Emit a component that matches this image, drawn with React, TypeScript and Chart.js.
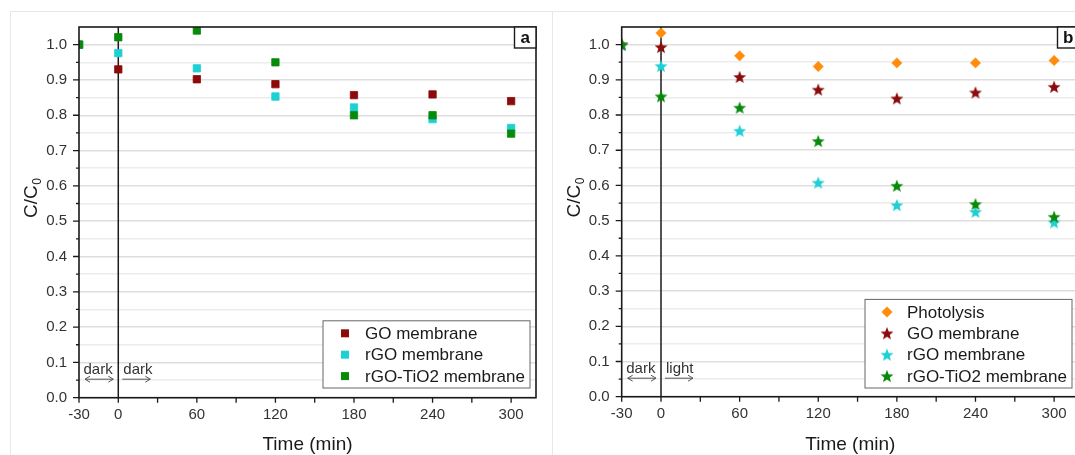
import { useEffect, useRef } from 'react';
import { Chart, registerables } from 'chart.js';

Chart.register(...registerables);

// ---------- data ----------
const timesA = [-30, 0, 60, 120, 180, 240, 300];
const goA = [1.0, 0.93, 0.902, 0.888, 0.857, 0.859, 0.84];
const rgoA = [1.0, 0.976, 0.933, 0.853, 0.822, 0.789, 0.764];
const tio2A = [1.0, 1.021, 1.04, 0.95, 0.8, 0.8, 0.748];

const timesB = [-30, 0, 60, 120, 180, 240, 300];
const photoB = [1.0, 1.033, 0.968, 0.938, 0.948, 0.948, 0.955];
const goB = [1.0, 0.993, 0.908, 0.872, 0.847, 0.864, 0.88];
const rgoB = [1.0, 0.939, 0.755, 0.608, 0.544, 0.525, 0.495];
const tio2B = [1.0, 0.853, 0.821, 0.726, 0.599, 0.547, 0.511];

const labelsA = ['GO membrane', 'rGO membrane', 'rGO-TiO2 membrane'];
const labelsB = ['Photolysis', 'GO membrane', 'rGO membrane', 'rGO-TiO2 membrane'];

const xTickValues = [-30, 0, 30, 60, 90, 120, 150, 180, 210, 240, 270, 300];
const xLabelValues = [-30, 0, 60, 120, 180, 240, 300];
const yTickValues = [0, 0.05, 0.1, 0.15, 0.2, 0.25, 0.3, 0.35, 0.4, 0.45, 0.5, 0.55, 0.6, 0.65, 0.7, 0.75, 0.8, 0.85, 0.9, 0.95, 1.0];

const annotA = ['dark', 'dark'];
const annotB = ['dark', 'light'];

const GO_COLOR = '#8B0A0A';
const RGO_COLOR = '#1DD0D4';
const TIO2_COLOR = '#078A0A';
const PHOTO_COLOR = '#FF8C0A';

const FONT = 'Arial, "Liberation Sans", sans-serif';

const isMajor = (v: number) => Math.abs(v * 10 - Math.round(v * 10)) < 1e-6;

function starPath(g: CanvasRenderingContext2D, cx: number, cy: number, R: number, r: number) {
  g.beginPath();
  for (let i = 0; i < 10; i++) {
    const a = -Math.PI / 2 + (i * Math.PI) / 5;
    const rad = i % 2 === 0 ? R : r;
    g.lineTo(cx + rad * Math.cos(a), cy + rad * Math.sin(a));
  }
  g.closePath();
}

function makeStar(color: string) {
  const c = document.createElement('canvas');
  c.width = 16;
  c.height = 16;
  const g = c.getContext('2d')!;
  starPath(g, 8, 8.6, 6.8, 2.9);
  g.fillStyle = color;
  g.fill();
  return c;
}

type Marker = 'rect' | 'rectRot' | HTMLCanvasElement;

function drawMarker(ctx: CanvasRenderingContext2D, m: Marker, color: string, x: number, y: number) {
  ctx.save();
  ctx.fillStyle = color;
  if (m === 'rect') {
    ctx.fillRect(x - 4, y - 4, 8, 8);
  } else if (m === 'rectRot') {
    ctx.beginPath();
    ctx.moveTo(x - 5.5, y);
    ctx.lineTo(x, y - 5.5);
    ctx.lineTo(x + 5.5, y);
    ctx.lineTo(x, y + 5.5);
    ctx.closePath();
    ctx.fill();
  } else {
    ctx.drawImage(m, x - m.width / 2, y - m.height / 2);
  }
  ctx.restore();
}

function arrowHead(ctx: CanvasRenderingContext2D, x: number, y: number, dir: number) {
  ctx.beginPath();
  ctx.moveTo(x - dir * 5, y - 3);
  ctx.lineTo(x, y);
  ctx.lineTo(x - dir * 5, y + 3);
  ctx.stroke();
}

const panelPlugin = {
  id: 'panel',
  beforeDatasetsDraw(chart: any) {
    const { ctx, chartArea: a, scales } = chart;
    const x0 = scales.x.getPixelForValue(0);
    ctx.save();
    ctx.strokeStyle = '#1a1a1a';
    ctx.lineWidth = 1.5;
    ctx.beginPath();
    ctx.moveTo(x0, a.top);
    ctx.lineTo(x0, a.bottom);
    ctx.stroke();
    ctx.restore();
  },
  afterDraw(chart: any, _args: any, opts: any) {
    const { ctx, chartArea: a, scales } = chart;
    const xs = scales.x;
    const ys = scales.y;
    ctx.save();
    // frame
    ctx.strokeStyle = '#1a1a1a';
    ctx.lineWidth = 1.6;
    ctx.strokeRect(a.left, a.top, a.right - a.left, a.bottom - a.top);
    // ticks
    ctx.lineWidth = 1.3;
    ctx.beginPath();
    for (const v of yTickValues) {
      const py = ys.getPixelForValue(v);
      const len = isMajor(v) ? 6 : 3;
      ctx.moveTo(a.left - len, py);
      ctx.lineTo(a.left, py);
    }
    for (const v of xTickValues) {
      const px = xs.getPixelForValue(v);
      ctx.moveTo(px, a.bottom);
      ctx.lineTo(px, a.bottom + 5);
    }
    ctx.stroke();

    // panel letter
    ctx.lineWidth = 1.4;
    ctx.fillStyle = '#fff';
    ctx.fillRect(a.right - 21.5, a.top, 21.5, 21);
    ctx.strokeRect(a.right - 21.5, a.top, 21.5, 21);
    ctx.fillStyle = '#111';
    ctx.font = `bold 17px ${FONT}`;
    ctx.textAlign = 'center';
    ctx.textBaseline = 'middle';
    ctx.fillText(opts.letter, a.right - 10.75, a.top + 11);

    // dark / light annotations
    const x0 = xs.getPixelForValue(0);
    const xl = xs.getPixelForValue(-30);
    ctx.font = `15px ${FONT}`;
    ctx.fillStyle = '#333';
    ctx.textAlign = 'left';
    ctx.textBaseline = 'alphabetic';
    const tb = a.bottom - 23.5;
    ctx.fillText(opts.annot[0], xl + 4.5, tb);
    ctx.fillText(opts.annot[1], x0 + 5, tb);
    ctx.strokeStyle = '#555';
    ctx.lineWidth = 1;
    const ay = a.bottom - 18.5;
    ctx.beginPath();
    ctx.moveTo(xl + 6, ay);
    ctx.lineTo(x0 - 5, ay);
    ctx.moveTo(x0 + 4, ay);
    ctx.lineTo(x0 + 32, ay);
    ctx.stroke();
    arrowHead(ctx, xl + 6, ay, -1);
    arrowHead(ctx, x0 - 5, ay, 1);
    arrowHead(ctx, x0 + 32, ay, 1);

    // legend
    const entries = opts.legend as { label: string; color: string; marker: Marker }[];
    const rowH = 21.4;
    const bw = 207;
    const bh = entries.length * rowH + 3;
    const bx = a.right - opts.legendRight - bw;
    const by = a.bottom - opts.legendBottom - bh;
    ctx.fillStyle = '#fff';
    ctx.fillRect(bx, by, bw, bh);
    ctx.strokeStyle = '#666';
    ctx.lineWidth = 1;
    ctx.strokeRect(bx, by, bw, bh);
    ctx.font = `17px ${FONT}`;
    ctx.textBaseline = 'middle';
    ctx.textAlign = 'left';
    entries.forEach((e, i) => {
      const cy = by + 12.5 + i * rowH;
      drawMarker(ctx, e.marker, e.color, bx + 22, cy);
      ctx.fillStyle = '#1a1a1a';
      ctx.fillText(e.label, bx + 42, cy + 1);
    });

    // axis titles
    ctx.fillStyle = '#1a1a1a';
    ctx.font = `19px ${FONT}`;
    ctx.textAlign = 'center';
    ctx.textBaseline = 'alphabetic';
    ctx.fillText('Time (min)', (a.left + a.right) / 2, 450);

    ctx.translate(a.left - 42, (a.top + a.bottom) / 2 - 14);
    ctx.rotate(-Math.PI / 2);
    ctx.textAlign = 'left';
    ctx.font = `19px ${FONT}`;
    const w1 = ctx.measureText('C/C').width;
    ctx.font = `12px ${FONT}`;
    const w2 = ctx.measureText('0').width;
    const start = -(w1 + w2) / 2;
    ctx.font = `19px ${FONT}`;
    ctx.fillText('C/C', start, 0);
    ctx.font = `12px ${FONT}`;
    ctx.fillText('0', start + w1 + 0.5, 4);
    ctx.restore();
  },
};

type DS = { label: string; values: number[]; color: string; marker: Marker; order: number };

function buildConfig(p: {
  times: number[];
  ds: DS[];
  letter: string;
  annot: string[];
  yWidth: number;
  xHeight: number;
  padRight: number;
  xMax: number;
  legendRight: number;
  legendBottom: number;
}): any {
  return {
    type: 'scatter',
    data: {
      datasets: p.ds.map((d) => ({
        label: d.label,
        data: p.times.map((t, i) => ({ x: t, y: d.values[i] })),
        showLine: false,
        pointStyle: d.marker,
        pointRadius: d.marker === 'rect' ? 5.2 : d.marker === 'rectRot' ? 5.2 : 7,
        pointHoverRadius: 6,
        backgroundColor: d.color,
        borderColor: d.color,
        borderWidth: d.marker === 'rect' ? 0.8 : 0.5,
        order: d.order,
        clip: 0,
      })),
    },
    options: {
      responsive: false,
      animation: false,
      events: [],
      layout: { padding: { top: 27, right: p.padRight, left: 0, bottom: 0 } },
      plugins: {
        legend: { display: false },
        tooltip: { enabled: false },
        panel: {
          letter: p.letter,
          annot: p.annot,
          legendRight: p.legendRight,
          legendBottom: p.legendBottom,
          legend: p.ds.map((d) => ({ label: d.label, color: d.color, marker: d.marker })),
        },
      },
      scales: {
        x: {
          type: 'linear',
          min: -30,
          max: p.xMax,
          afterBuildTicks: (s: any) => {
            s.ticks = xTickValues.map((v) => ({ value: v }));
          },
          afterFit: (s: any) => {
            s.height = p.xHeight;
          },
          ticks: {
            autoSkip: false,
            maxRotation: 0,
            padding: 8,
            color: '#333',
            font: { family: FONT, size: 15 },
            callback: (v: number) => (xLabelValues.includes(v) ? String(v) : ''),
          },
          grid: { display: false, drawTicks: false },
          border: { display: false },
        },
        y: {
          type: 'linear',
          min: 0,
          max: 1.05,
          afterBuildTicks: (s: any) => {
            s.ticks = yTickValues.map((v) => ({ value: v }));
          },
          afterFit: (s: any) => {
            s.width = p.yWidth;
          },
          ticks: {
            autoSkip: false,
            padding: 12,
            color: '#333',
            font: { family: FONT, size: 15 },
            callback: (v: number) => (isMajor(v) ? v.toFixed(1) : ''),
          },
          grid: {
            drawTicks: false,
            color: (c: any) => (isMajor(c.tick.value) ? '#dedede' : '#ececec'),
            lineWidth: 1.5,
          },
          border: { display: false },
        },
      },
    },
    plugins: [panelPlugin],
  };
}

export default function App() {
  const refA = useRef<HTMLCanvasElement>(null);
  const refB = useRef<HTMLCanvasElement>(null);

  useEffect(() => {
    const starGO = makeStar(GO_COLOR);
    const starRGO = makeStar(RGO_COLOR);
    const starTiO2 = makeStar(TIO2_COLOR);

    const chartA = new Chart(
      refA.current!,
      buildConfig({
        times: timesA,
        ds: [
          { label: labelsA[0], values: goA, color: GO_COLOR, marker: 'rect', order: 2 },
          { label: labelsA[1], values: rgoA, color: RGO_COLOR, marker: 'rect', order: 1 },
          { label: labelsA[2], values: tio2A, color: TIO2_COLOR, marker: 'rect', order: 0 },
        ],
        letter: 'a',
        annot: annotA,
        yWidth: 79,
        xHeight: 57.3,
        padRight: 16,
        xMax: 319,
        legendRight: 6,
        legendBottom: 9.7,
      })
    );
    const chartB = new Chart(
      refB.current!,
      buildConfig({
        times: timesB,
        ds: [
          { label: labelsB[0], values: photoB, color: PHOTO_COLOR, marker: 'rectRot', order: 3 },
          { label: labelsB[1], values: goB, color: GO_COLOR, marker: starGO, order: 2 },
          { label: labelsB[2], values: rgoB, color: RGO_COLOR, marker: starRGO, order: 1 },
          { label: labelsB[3], values: tio2B, color: TIO2_COLOR, marker: starTiO2, order: 0 },
        ],
        letter: 'b',
        annot: annotB,
        yWidth: 68.7,
        xHeight: 58.3,
        padRight: 19,
        xMax: 319,
        legendRight: 7,
        legendBottom: 8.7,
      })
    );
    return () => {
      chartA.destroy();
      chartB.destroy();
    };
  }, []);

  return (
    <div
      style={{
        position: 'absolute',
        left: 0,
        top: 0,
        width: 1075,
        height: 455,
        overflow: 'hidden',
        background: '#fff',
      }}
    >
      <div style={{ position: 'absolute', left: 10, top: 11, width: 1065, height: 1, background: '#e8e8e8' }} />
      <div style={{ position: 'absolute', left: 10, top: 11, width: 1, height: 444, background: '#e8e8e8' }} />
      <div style={{ position: 'absolute', left: 552, top: 11, width: 1, height: 444, background: '#e8e8e8' }} />
      <canvas ref={refA} width={552} height={455} style={{ position: 'absolute', left: 0, top: 0 }} />
      <canvas ref={refB} width={545} height={455} style={{ position: 'absolute', left: 553, top: 0 }} />
    </div>
  );
}
